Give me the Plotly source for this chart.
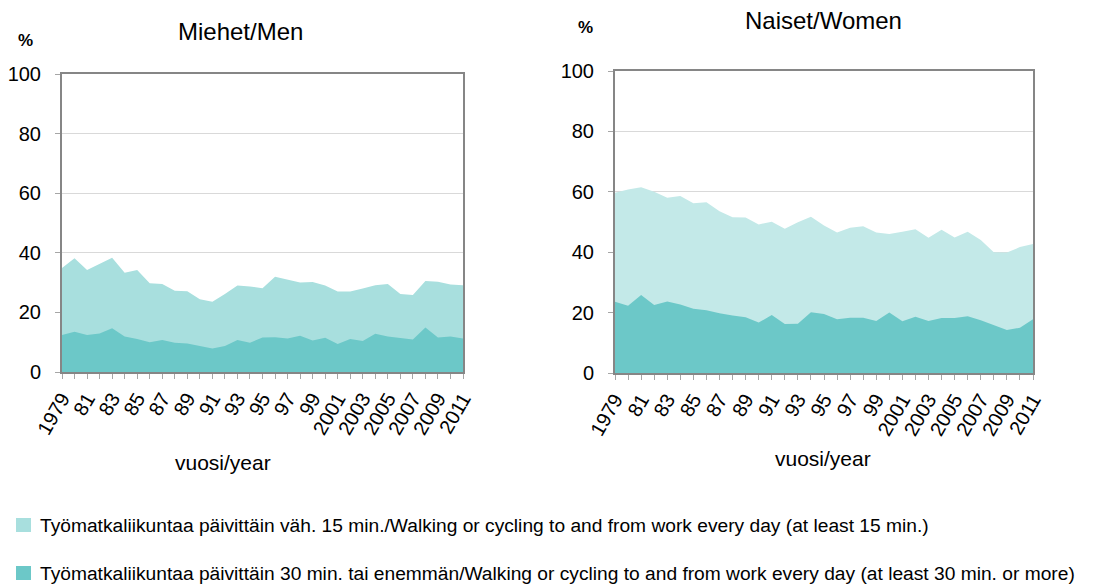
import plotly.graph_objects as go

years = list(range(1979, 2012))
tick_text = [str(y) if y in (1979,) or y >= 2001 else str(y)[2:] for y in years]
tick_text = [t if (y - 1979) % 2 == 0 else "" for y, t in zip(years, tick_text)]

men_15 = [34.9, 38.2, 34.2, 36.2, 38.3, 33.3, 34.2, 29.8, 29.5, 27.3, 27.1,
          24.4, 23.6, 26.2, 29.0, 28.7, 28.1, 32.0, 30.9, 30.0, 30.2, 29.0,
          27.0, 27.0, 28.0, 29.1, 29.5, 26.2, 25.8, 30.5, 30.3, 29.4, 29.1]
men_30 = [12.4, 13.5, 12.4, 12.9, 14.7, 11.9, 11.1, 10.0, 10.7, 9.8, 9.6,
          8.8, 7.9, 8.7, 10.7, 9.8, 11.6, 11.7, 11.2, 12.2, 10.6, 11.5,
          9.4, 11.1, 10.4, 12.8, 11.9, 11.4, 10.9, 14.9, 11.6, 11.9, 11.2]
women_15 = [59.7, 60.8, 61.5, 60.0, 58.0, 58.6, 56.2, 56.5, 53.6, 51.6, 51.5,
            49.2, 50.1, 47.8, 49.9, 51.7, 48.8, 46.5, 48.1, 48.6, 46.5, 46.0,
            46.8, 47.6, 44.8, 47.4, 44.9, 46.8, 44.0, 40.0, 39.9, 41.7, 42.7]
women_30 = [23.6, 22.3, 25.8, 22.5, 23.7, 22.7, 21.3, 20.8, 19.8, 19.0, 18.5,
            16.7, 19.2, 16.2, 16.3, 20.1, 19.5, 17.8, 18.3, 18.3, 17.2, 20.0,
            17.1, 18.6, 17.2, 18.2, 18.2, 18.8, 17.5, 15.9, 14.2, 15.0, 17.8]

legend_15 = "Työmatkaliikuntaa päivittäin väh. 15 min./Walking or cycling to and from work every day (at least 15 min.)"
legend_30 = "Työmatkaliikuntaa päivittäin 30 min. tai enemmän/Walking or cycling to and from work every day (at least 30 min. or more)"

light_men = "#a8dfde"
light_women = "#c3e9e8"
dark = "#6cc8c8"
font = "Liberation Sans, Arial, sans-serif"

# the page body has an 8px margin, so work in page pixels and shift by it
OFF = 8
W, H = 1096 - OFF, 584 - OFF


def px(x):
    return (x - OFF) / W


def py(y):
    return 1 - (y - OFF) / H


fig = go.Figure()
fig.add_trace(go.Scatter(x=years, y=men_15, fill="tozeroy", mode="lines",
                         line=dict(width=0), fillcolor=light_men, xaxis="x", yaxis="y"))
fig.add_trace(go.Scatter(x=years, y=men_30, fill="tozeroy", mode="lines",
                         line=dict(width=0), fillcolor=dark, xaxis="x", yaxis="y"))
fig.add_trace(go.Scatter(x=years, y=women_15, fill="tozeroy", mode="lines",
                         line=dict(width=0), fillcolor=light_women, xaxis="x2", yaxis="y2"))
fig.add_trace(go.Scatter(x=years, y=women_30, fill="tozeroy", mode="lines",
                         line=dict(width=0), fillcolor=dark, xaxis="x2", yaxis="y2"))

xaxis_common = dict(range=[1979, 2011], tickmode="array", tickvals=years, ticktext=tick_text,
                    tickangle=-60, ticks="outside", ticklen=5, tickcolor="#a6a6a6",
                    showline=True, mirror=True, linecolor="#868686", linewidth=2,
                    showgrid=False, zeroline=False, automargin=False,
                    tickfont=dict(size=20, color="#000"))
yaxis_common = dict(range=[0, 100], tickvals=[0, 20, 40, 60, 80, 100],
                    showline=True, mirror=True, linecolor="#868686", linewidth=2,
                    ticks="outside", ticklen=5, tickcolor="#a6a6a6",
                    showgrid=True, gridcolor="#d9d9d9", gridwidth=1, zeroline=False,
                    automargin=False, tickfont=dict(size=20, color="#000"),
                    ticklabelstandoff=10)

fig.update_layout(
    width=W, height=H, margin=dict(l=0, r=0, t=0, b=0, autoexpand=False),
    paper_bgcolor="white", plot_bgcolor="white", showlegend=False,
    font=dict(family=font, color="#000"),
    xaxis=dict(domain=[px(62), px(463)], anchor="y", **xaxis_common),
    yaxis=dict(domain=[py(372), py(74)], anchor="x", **yaxis_common),
    xaxis2=dict(domain=[px(615), px(1033)], anchor="y2", **xaxis_common),
    yaxis2=dict(domain=[py(373), py(71)], anchor="x2", **yaxis_common),
)

annotations = [
    dict(text="Miehet/Men", x=240, y=32, font=dict(size=24)),
    dict(text="Naiset/Women", x=823, y=20, font=dict(size=24)),
    dict(text="<b>%</b>", x=25, y=41, font=dict(size=17)),
    dict(text="<b>%</b>", x=585, y=28, font=dict(size=17)),
    dict(text="vuosi/year", x=223, y=462, font=dict(size=21)),
    dict(text="vuosi/year", x=823, y=458, font=dict(size=21)),
]
for a in annotations:
    fig.add_annotation(text=a["text"], x=px(a["x"]), y=py(a["y"]),
                       xref="paper", yref="paper", showarrow=False,
                       xanchor="center", yanchor="middle", font=a["font"])

for txt, col, yc in [(legend_15, light_men, 525), (legend_30, dark, 573)]:
    fig.add_shape(type="rect", xref="paper", yref="paper",
                  x0=px(16), x1=px(31), y0=py(yc + 7), y1=py(yc - 7),
                  fillcolor=col, line=dict(width=0))
    fig.add_annotation(text=txt, x=px(38), y=py(yc), xref="paper", yref="paper",
                       showarrow=False, xanchor="left", yanchor="middle",
                       font=dict(size=19.2))

fig.write_html("out.html")
